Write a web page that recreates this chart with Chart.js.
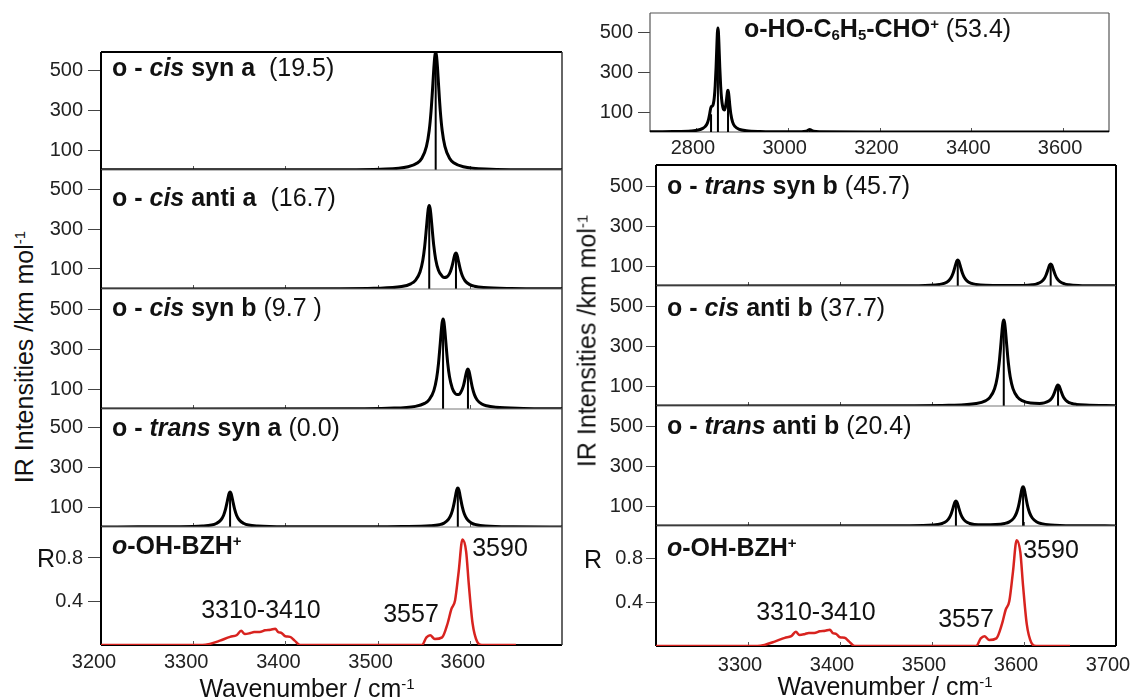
<!DOCTYPE html>
<html>
<head>
<meta charset="utf-8">
<script src="https://cdn.jsdelivr.net/npm/chart.js@4.4.1/dist/chart.umd.min.js"></script>
<style>
  body { margin: 0; background: #fff; width: 1131px; height: 700px; position: relative; overflow: hidden;
         font-family: "Liberation Sans", Arial, sans-serif; color: #111; }
  canvas { position: absolute; }
  .t { position: absolute; white-space: pre; font-size: 25px; line-height: 1; z-index: 5; }
  .b { font-weight: bold; }
  .n { font-weight: normal; }
  .sup { font-size: 0.6em; position: relative; top: -0.55em; }
  .sub { font-size: 0.6em; position: relative; top: 0.2em; }
</style>
</head>
<body>
<script>
const FONT = '"Liberation Sans", Arial, sans-serif';

// ---- data ----
// calculated spectra, IR intensity (km/mol) vs wavenumber (cm-1)
const cisSynA = [[3200,1],[3463,1.5],[3503,4],[3533,16],[3543,35],[3548,59],[3553,118],[3556,199],[3558,295],[3560,434],[3561,509],[3562,567],[3563,590],[3564,567],[3565,509],[3566,434],[3568,295],[3570,199],[3573,118],[3578,59],[3583,35],[3593,16],[3623,4],[3663,1.5],[3700,1]];
const cisAntiA = [[3200,0.5],[3456,1.3],[3496,3.4],[3526,12],[3536,26],[3541,43],[3546,85],[3549,143],[3551,210],[3553,308],[3554,360],[3555,402],[3556,418],[3557,402],[3558,362],[3559,310],[3561,214],[3563,148],[3566,94],[3570,64],[3572,58],[3575,60],[3578,77],[3580,101],[3582,138],[3583,159],[3584,174],[3585,180],[3586,173],[3587,155],[3588,133],[3590,93],[3592,65],[3595,40],[3600,22],[3605,14],[3615,7.4],[3645,2.5],[3700,1]];
const cisSynB = [[3200,0.5],[3471,1.4],[3511,3.7],[3541,13],[3551,28],[3556,47],[3561,92],[3564,154],[3566,226],[3568,331],[3569,388],[3570,433],[3571,450],[3572,434],[3573,390],[3574,334],[3576,231],[3578,161],[3581,104],[3584,78],[3586,72],[3588,72],[3590,81],[3593,114],[3595,155],[3596,177],[3597,194],[3598,200],[3599,192],[3600,172],[3601,148],[3603,103],[3605,72],[3608,45],[3613,25],[3618,16],[3628,8.4],[3658,2.8],[3700,1.2]];
const transSynA = [[3200,0.5],[3240,0.7],[3280,1.5],[3310,5],[3320,10],[3325,17.5],[3330,35],[3333,59],[3335,88],[3337,129],[3338,151],[3339,168],[3340,175],[3341,168],[3342,151],[3343,129],[3345,88],[3347,59],[3350,35],[3355,17.5],[3360,10],[3370,5],[3400,1.5],[3487,1],[3527,2],[3557,6],[3567,11.5],[3572,19.5],[3577,39],[3580,66],[3582,98],[3584,143],[3585,168],[3586,188],[3587,195],[3588,188],[3589,168],[3590,143],[3592,98],[3594,66],[3597,39],[3602,19.5],[3607,11.5],[3617,5.3],[3647,1.3],[3700,0.5]];
const hoCHO = [[2700,0.8],[2750,1.9],[2790,5.4],[2805,10],[2815,18],[2820,27],[2825,45],[2828,68],[2830,91],[2832,117],[2833,125],[2834,129],[2836,131],[2838,142],[2840,172],[2842,231],[2844,329],[2846,456],[2847,506],[2848,525],[2849,506],[2850,455],[2852,328],[2854,229],[2856,167],[2858,132],[2860,114],[2862,111],[2864,122],[2866,150],[2868,190],[2869,206],[2870,210],[2871,201],[2872,181],[2874,131],[2876,92],[2880,50],[2885,28],[2895,13],[2910,6.4],[2940,2.6],[3000,0.9],[3030,1.2],[3040,4],[3045,9.4],[3048,12.6],[3051,9.4],[3056,4],[3070,1.3],[3200,0.3],[3700,0.1]];
const transSynB = [[3200,0.3],[3468,0.9],[3498,3.5],[3508,7.7],[3513,13],[3518,26],[3521,44],[3523,65],[3525,95.5],[3526,112],[3527,125],[3528,130],[3529,125],[3530,112],[3531,95.5],[3533,65],[3535,44],[3538,26],[3543,13],[3548,7.7],[3558,3.5],[3578,2.4],[3599,3],[3609,6.5],[3614,11],[3619,22],[3622,37],[3624,55],[3626,81],[3627,95],[3628,106],[3629,110],[3630,106],[3631,95],[3632,81],[3634,55],[3636,37],[3639,22],[3644,11],[3649,6.5],[3659,3],[3689,0.8],[3700,0.6]];
const cisAntiB = [[3200,0.5],[3478,1.2],[3518,3.2],[3548,12],[3558,25.6],[3563,43.4],[3568,86.3],[3571,145.6],[3573,215],[3575,316],[3576,371],[3577,414],[3578,430],[3579,414],[3580,371],[3581,316],[3583,215],[3585,146],[3588,87],[3593,44],[3598,27],[3607,15],[3617,13],[3622,15.6],[3627,24.8],[3630,38.4],[3632,54.6],[3634,78.4],[3635,91.3],[3636,101.2],[3637,105.1],[3638,101],[3639,90.9],[3640,77.8],[3642,53.7],[3644,37.1],[3647,22.8],[3652,12.4],[3657,8],[3667,4.5],[3700,1.3]];
const transAntiB = [[3200,0.3],[3466,0.9],[3496,3.4],[3506,7.4],[3511,12.5],[3516,25],[3519,42],[3521,62.5],[3523,92],[3524,108],[3525,120],[3526,125],[3527,120],[3528,108],[3529,92],[3531,62.5],[3533,42],[3536,25],[3541,12.5],[3546,7.4],[3556,6],[3569,7],[3579,12.6],[3584,20.5],[3589,40],[3592,67],[3594,98],[3596,144],[3597,169],[3598,189],[3599,196],[3600,189],[3601,169],[3602,144],[3604,98],[3606,67],[3609,40],[3614,20],[3619,12],[3629,5.6],[3659,1.5],[3700,0.6]];

// stick positions [wavenumber, intensity]
const cisSynASticks = [[3563,590]];
const cisAntiASticks = [[3556,413],[3585,168]];
const cisSynBSticks = [[3571,444],[3598,185]];
const transSynASticks = [[3340,175],[3587,195]];
const hoCHOSticks = [[2833,90],[2848,509],[2870,184],[3048,10]];
const transSynBSticks = [[3528,130],[3629,110]];
const cisAntiBSticks = [[3578,429],[3637,102]];
const transAntiBSticks = [[3526,125],[3599,195]];

// experimental IRPD spectrum of o-OH-BZH+, relative intensity R
const expOHBZH = [[3200,0],[3310,0],[3318,0.01],[3329,0.04],[3340,0.075],[3347,0.09],[3352,0.13],[3356,0.1],[3362,0.11],[3366,0.12],[3372,0.12],[3378,0.135],[3384,0.14],[3389,0.15],[3392,0.12],[3396,0.11],[3400,0.08],[3405,0.075],[3410,0.04],[3416,0],[3548,0],[3553,0.07],[3557,0.09],[3562,0.055],[3570,0.07],[3576,0.2],[3580,0.33],[3584,0.41],[3588,0.68],[3592,0.97],[3596,0.86],[3599,0.55],[3603,0.2],[3608,0.03],[3613,0],[3650,0]];

// tick labels
const leftXTicks = [3200, 3300, 3400, 3500, 3600];
const rightXTicks = [3300, 3400, 3500, 3600, 3700];
const topXTicks = [2800, 3000, 3200, 3400, 3600];
const calcYTicks = [100, 300, 500];
const expYTicks = [0.4, 0.8];

// ---- helpers ----
const pts = a => a.map(p => ({ x: p[0], y: p[1] }));
function sticks(a) {
  const out = [];
  a.forEach(p => out.push({ x: p[0], y: 0 }, { x: p[0], y: p[1] }, { x: p[0], y: null }));
  return out;
}

// panel borders plus the little inward x tick marks on each panel's bottom edge
const framePlugin = {
  id: 'frame',
  beforeDatasetsDraw(chart, args, o) {
    const a = chart.chartArea, ctx = chart.ctx;
    const seg = {
      top: [a.left, a.top, a.right, a.top],
      bottom: [a.left, a.bottom, a.right, a.bottom],
      left: [a.left, a.top, a.left, a.bottom],
      right: [a.right, a.top, a.right, a.bottom]
    };
    Object.keys(seg).forEach(k => {
      if (!o[k]) return;
      const s = seg[k];
      ctx.save();
      ctx.lineWidth = o[k][0];
      ctx.strokeStyle = o[k][1];
      ctx.beginPath();
      ctx.moveTo(s[0], s[1]);
      ctx.lineTo(s[2], s[3]);
      ctx.stroke();
      ctx.restore();
    });
    if (o.marks) {
      const xs = chart.scales.x;
      ctx.save();
      ctx.strokeStyle = '#555';
      ctx.lineWidth = 1;
      ctx.beginPath();
      o.marks.forEach(v => {
        const px = Math.round(xs.getPixelForValue(v)) + 0.5;
        ctx.moveTo(px, a.bottom);
        ctx.lineTo(px, a.bottom - 4);
      });
      ctx.stroke();
      ctx.restore();
    }
  }
};

function curve(a) {
  return { data: pts(a), borderColor: '#000', borderWidth: 3, pointRadius: 0,
           cubicInterpolationMode: 'monotone', fill: false };
}
function stickSet(a) {
  return { data: sticks(a), borderColor: '#000', borderWidth: 2, pointRadius: 0,
           tension: 0, spanGaps: false, fill: false };
}
function expSet(a) {
  return { data: pts(a), borderColor: '#d8231f', borderWidth: 2.5, pointRadius: 0,
           cubicInterpolationMode: 'monotone', fill: false };
}

function panel(p) {
  const padT = 14, padR = p.padR || 6;
  const xh = p.xTicks ? 40 : 0, padB = p.xTicks ? 0 : 14;
  const W = p.w + p.yw + padR, H = p.h + padT + xh + padB;
  const c = document.createElement('canvas');
  c.width = W; c.height = H;
  c.style.left = (p.l - p.yw) + 'px';
  c.style.top = (p.t - padT) + 'px';
  c.style.width = W + 'px';
  c.style.height = H + 'px';
  document.body.appendChild(c);

  new Chart(c, {
    type: 'line',
    data: { datasets: p.datasets },
    options: {
      responsive: false, devicePixelRatio: 1, animation: false, events: [],
      layout: { padding: { top: padT, right: padR, bottom: padB, left: 0 } },
      plugins: { legend: { display: false }, tooltip: { enabled: false },
                 frame: Object.assign({ marks: p.marks }, p.frame) },
      scales: {
        x: {
          type: 'linear', min: p.xmin, max: p.xmax, display: !!p.xTicks,
          afterBuildTicks: s => { if (p.xTicks) s.ticks = p.xTicks.map(v => ({ value: v })); },
          afterFit: s => { s.height = xh; s.paddingLeft = 0; s.paddingRight = 0; },
          grid: { display: false, drawTicks: false },
          border: { display: false },
          ticks: { color: '#222', font: { family: FONT, size: 20 }, padding: p.xPad || 6,
                   labelOffset: p.lo || 0, maxRotation: 0, autoSkip: false, callback: v => String(v) }
        },
        y: {
          type: 'linear', min: 0, max: p.ymax,
          afterBuildTicks: s => { s.ticks = p.yTicks.map(v => ({ value: v })); },
          afterFit: s => { s.width = p.yw; s.paddingTop = 0; s.paddingBottom = 0; },
          grid: { drawOnChartArea: false, tickLength: p.tl, color: '#444', lineWidth: 1 },
          border: { display: false },
          ticks: { color: '#222', font: { family: FONT, size: 20 }, padding: p.tp,
                   callback: v => String(v) }
        }
      }
    },
    plugins: [framePlugin]
  });
}

const BLK = [2, '#000'], GRY = [1, '#777'], EDGE = [1.5, '#333'], THIN = [1.2, '#555'];

// ---- left column ----
const L = { l: 101, w: 461, yw: 62, xmin: 3200, xmax: 3700, tl: 13, tp: 5, padR: 4, lo: -7,
            marks: [3300, 3400, 3500, 3600] };
panel(Object.assign({}, L, { t: 52, h: 118, ymax: 590, yTicks: calcYTicks,
  datasets: [curve(cisSynA), stickSet(cisSynASticks)],
  frame: { top: BLK, left: BLK, right: EDGE } }));
panel(Object.assign({}, L, { t: 170, h: 119, ymax: 595, yTicks: calcYTicks,
  datasets: [curve(cisAntiA), stickSet(cisAntiASticks)],
  frame: { top: GRY, left: BLK, right: EDGE } }));
panel(Object.assign({}, L, { t: 289, h: 120, ymax: 600, yTicks: calcYTicks,
  datasets: [curve(cisSynB), stickSet(cisSynBSticks)],
  frame: { top: GRY, left: BLK, right: EDGE } }));
panel(Object.assign({}, L, { t: 409, h: 118, ymax: 590, yTicks: calcYTicks,
  datasets: [curve(transSynA), stickSet(transSynASticks)],
  frame: { top: GRY, left: BLK, right: EDGE } }));
panel(Object.assign({}, L, { t: 527, h: 118, ymax: 1.085, yTicks: expYTicks,
  xTicks: leftXTicks, xPad: 5,
  datasets: [expSet(expOHBZH)],
  frame: { top: GRY, left: BLK, right: EDGE, bottom: BLK } }));

// ---- right column ----
panel({ l: 650, t: 13, w: 459, h: 119, yw: 58, xmin: 2700, xmax: 3700, ymax: 600,
  tl: 12, tp: 5, padR: 10, lo: -3, yTicks: calcYTicks, xTicks: topXTicks, xPad: 4,
  marks: topXTicks,
  datasets: [curve(hoCHO), stickSet(hoCHOSticks)],
  frame: { top: THIN, left: THIN, right: THIN, bottom: THIN } });

const R = { l: 656, w: 460, yw: 50, xmin: 3200, xmax: 3700, tl: 10, tp: 3, padR: 15, lo: -8,
            marks: [3300, 3400, 3500, 3600] };
panel(Object.assign({}, R, { t: 165, h: 121, ymax: 605, yTicks: calcYTicks,
  datasets: [curve(transSynB), stickSet(transSynBSticks)],
  frame: { top: BLK, left: BLK, right: BLK } }));
panel(Object.assign({}, R, { t: 286, h: 120, ymax: 600, yTicks: calcYTicks,
  datasets: [curve(cisAntiB), stickSet(cisAntiBSticks)],
  frame: { top: GRY, left: BLK, right: BLK } }));
panel(Object.assign({}, R, { t: 406, h: 120, ymax: 600, yTicks: calcYTicks,
  datasets: [curve(transAntiB), stickSet(transAntiBSticks)],
  frame: { top: GRY, left: BLK, right: BLK } }));
panel(Object.assign({}, R, { t: 526, h: 120, ymax: 1.1, yTicks: expYTicks,
  xTicks: rightXTicks, xPad: 7,
  datasets: [expSet(expOHBZH)],
  frame: { top: GRY, left: BLK, right: BLK, bottom: BLK } }));

// ---- text ----
function txt(html, x, y, cls, mode) {
  const d = document.createElement('div');
  d.className = 't ' + (cls || '');
  d.innerHTML = html;
  d.style.left = x + 'px';
  d.style.top = y + 'px';
  if (mode === 'c') d.style.transform = 'translate(-50%,-50%)';
  else if (mode === 'r') d.style.transform = 'translate(-50%,-50%) rotate(-90deg)';
  else d.style.transform = 'translateY(-50%)';
  document.body.appendChild(d);
}

txt('o - <i>cis</i> syn a  <span class="n">(19.5)</span>', 112, 67, 'b');
txt('o - <i>cis</i> anti a  <span class="n">(16.7)</span>', 112, 197, 'b');
txt('o - <i>cis</i> syn b <span class="n">(9.7 )</span>', 112, 307, 'b');
txt('o - <i>trans</i> syn a <span class="n">(0.0)</span>', 112, 427, 'b');
txt('<i>o</i>-OH-BZH<span class="sup">+</span>', 112, 545, 'b');

txt('o-HO-C<span class="sub">6</span>H<span class="sub">5</span>-CHO<span class="sup">+</span> <span class="n">(53.4)</span>', 744, 28, 'b');
txt('o - <i>trans</i> syn b <span class="n">(45.7)</span>', 667, 185, 'b');
txt('o - <i>cis</i> anti b <span class="n">(37.7)</span>', 667, 307, 'b');
txt('o - <i>trans</i> anti b <span class="n">(20.4)</span>', 667, 425, 'b');
txt('<i>o</i>-OH-BZH<span class="sup">+</span>', 667, 547, 'b');

txt('3310-3410', 261, 609, '', 'c');
txt('3557', 411, 613, '', 'c');
txt('3590', 500, 547, '', 'c');
txt('3310-3410', 816, 611, '', 'c');
txt('3557', 966, 618, '', 'c');
txt('3590', 1051, 549, '', 'c');

txt('R', 46, 558, '', 'c');
txt('R', 593, 559, '', 'c');
txt('Wavenumber / cm<span class="sup">-1</span>', 307, 688, '', 'c');
txt('Wavenumber / cm<span class="sup">-1</span>', 885, 686, '', 'c');
txt('IR Intensities /km mol<span class="sup">-1</span>', 24, 357, '', 'r');
txt('IR Intensities /km mol<span class="sup">-1</span>', 587, 341, '', 'r');
</script>
</body>
</html>
